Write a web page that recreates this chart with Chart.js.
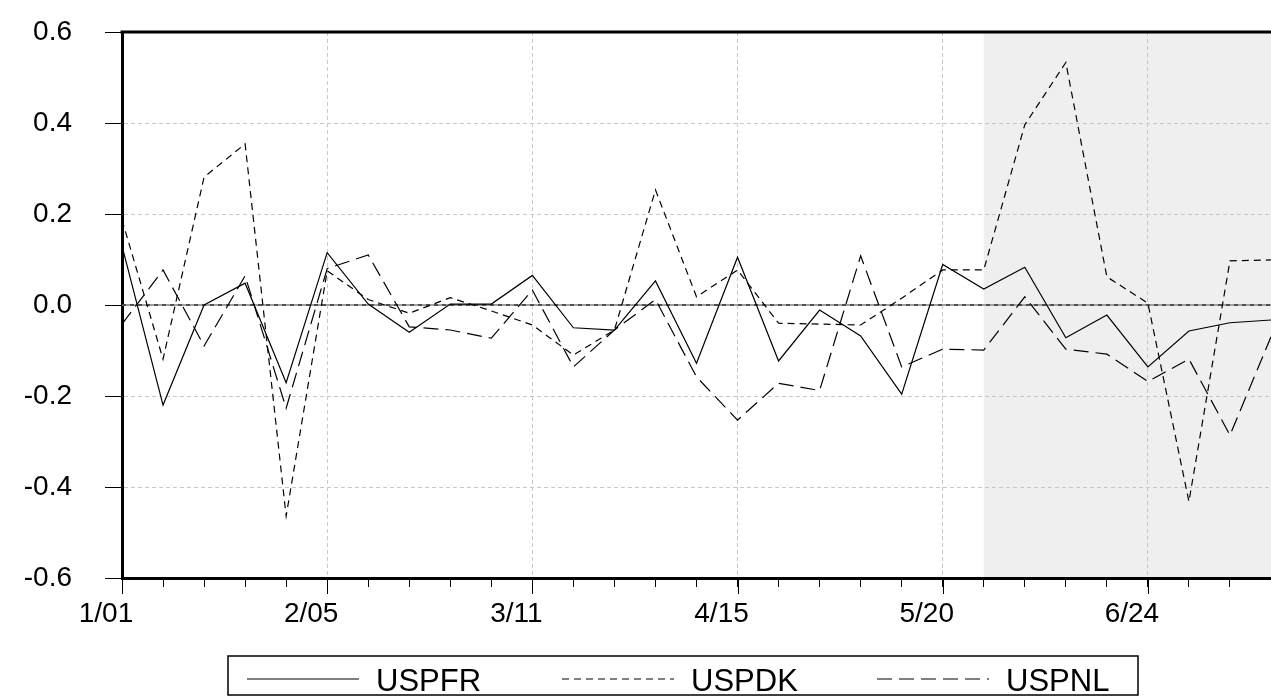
<!DOCTYPE html>
<html>
<head>
<meta charset="utf-8">
<script src="https://cdn.jsdelivr.net/npm/chart.js@4.4.0/dist/chart.umd.min.js"></script>
<style>
  html, body { margin: 0; padding: 0; background: #fff; }
  #wrap { width: 1271px; height: 700px; }
</style>
</head>
<body>
<div id="wrap"><canvas id="chart" width="1271" height="700"></canvas></div>
<script>
// weekly observations
const weeks = ["1/01", "1/08", "1/15", "1/22", "1/29", "2/05", "2/12", "2/19", "2/26", "3/04",
    "3/11", "3/18", "3/25", "4/01", "4/08", "4/15", "4/22", "4/29", "5/06", "5/13",
    "5/20", "5/27", "6/03", "6/10", "6/17", "6/24", "7/01", "7/08", "7/15"];

const tickWeeks = ["1/01", "2/05", "3/11", "4/15", "5/20", "6/24"];

const uspfr = [0.130, -0.220, 0.000, 0.048, -0.171, 0.115, 0.002, -0.060, 0.002, 0.002,
    0.065, -0.050, -0.055, 0.053, -0.128, 0.105, -0.123, -0.011, -0.068, -0.196,
    0.089, 0.035, 0.083, -0.072, -0.022, -0.136, -0.057, -0.039, -0.033];

const uspdk = [0.187, -0.119, 0.281, 0.354, -0.464, 0.075, 0.012, -0.018, 0.016, -0.013,
    -0.044, -0.110, -0.055, 0.253, 0.018, 0.077, -0.040, -0.042, -0.044, 0.015,
    0.077, 0.077, 0.396, 0.533, 0.062, 0.004, -0.432, 0.097, 0.099];

const uspnl = [-0.042, 0.077, -0.090, 0.064, -0.227, 0.080, 0.110, -0.048, -0.055, -0.073,
    0.033, -0.136, -0.055, 0.012, -0.158, -0.253, -0.172, -0.188, 0.108, -0.136,
    -0.097, -0.099, 0.018, -0.097, -0.108, -0.168, -0.119, -0.286, -0.070];

// shaded period
const shadeFrom = "5/27";
const shadeTo = "7/15";

Chart.defaults.font.family = '"Liberation Sans", Arial, sans-serif';
Chart.defaults.color = "#000";

const isMajor = (i) => tickWeeks.includes(weeks[i]);

// grey band behind everything
const shadePlugin = {
    id: "shade",
    beforeDraw(chart) {
        const { ctx, chartArea: a, scales: { x } } = chart;
        const x0 = x.getPixelForValue(weeks.indexOf(shadeFrom));
        const x1 = x.getPixelForValue(weeks.indexOf(shadeTo));
        ctx.save();
        ctx.fillStyle = "#efefef";
        ctx.fillRect(x0, a.top, x1 - x0, a.bottom - a.top);
        ctx.restore();
    }
};

// zero line, top edge of the frame, longer ticks at labelled weeks
const framePlugin = {
    id: "frame",
    beforeDatasetsDraw(chart) {
        const { ctx, chartArea: a, scales: { y } } = chart;
        const y0 = y.getPixelForValue(0);
        ctx.save();
        ctx.strokeStyle = "#a0a0a0";
        ctx.lineWidth = 2;
        ctx.beginPath();
        ctx.moveTo(a.left, y0);
        ctx.lineTo(a.right, y0);
        ctx.stroke();
        ctx.strokeStyle = "#000";
        ctx.lineWidth = 1;
        ctx.setLineDash([4, 4]);
        ctx.beginPath();
        ctx.moveTo(a.left, y0);
        ctx.lineTo(a.right, y0);
        ctx.stroke();
        ctx.restore();
    },
    afterDraw(chart) {
        const { ctx, chartArea: a, scales: { x } } = chart;
        ctx.save();
        ctx.strokeStyle = "#000";
        ctx.lineWidth = 3;
        ctx.beginPath();
        ctx.moveTo(a.left - 1.5, a.top);
        ctx.lineTo(a.right, a.top);
        ctx.stroke();
        ctx.lineWidth = 1;
        ctx.beginPath();
        weeks.forEach((w, i) => {
            if (!isMajor(i)) return;
            const px = Math.round(x.getPixelForValue(i)) + 0.5;
            ctx.moveTo(px, a.bottom);
            ctx.lineTo(px, a.bottom + 16);
        });
        ctx.stroke();
        ctx.restore();
    }
};

// boxed legend under the axis
const legendPlugin = {
    id: "boxLegend",
    afterDraw(chart) {
        const { ctx } = chart;
        const box = { left: 228, top: 656, width: 910, height: 39 };
        ctx.save();
        ctx.strokeStyle = "#000";
        ctx.lineWidth = 1.5;
        ctx.strokeRect(box.left, box.top, box.width, box.height);
        chart.data.datasets.forEach((ds, i) => {
            const sx = box.left + 19 + i * 315;
            const sy = box.top + 23;
            ctx.setLineDash(ds.borderDash || []);
            ctx.lineWidth = 1.2;
            ctx.beginPath();
            ctx.moveTo(sx, sy);
            ctx.lineTo(sx + 112, sy);
            ctx.stroke();
            ctx.setLineDash([]);
            ctx.font = '31px "Liberation Sans", Arial, sans-serif';
            ctx.fillStyle = "#000";
            ctx.textBaseline = "alphabetic";
            ctx.fillText(ds.label, sx + 129, box.top + 35);
        });
        ctx.restore();
    }
};

new Chart(document.getElementById("chart"), {
    type: "line",
    data: {
        labels: weeks,
        datasets: [
            { label: "USPFR", data: uspfr, borderColor: "#000", borderWidth: 1.2, borderDash: [], pointRadius: 0, tension: 0 },
            { label: "USPDK", data: uspdk, borderColor: "#000", borderWidth: 1.2, borderDash: [7, 5], pointRadius: 0, tension: 0 },
            { label: "USPNL", data: uspnl, borderColor: "#000", borderWidth: 1.2, borderDash: [15, 7], pointRadius: 0, tension: 0 }
        ]
    },
    options: {
        responsive: false,
        animation: false,
        devicePixelRatio: 1,
        layout: { padding: { top: 32, right: 0, left: 0, bottom: 0 } },
        plugins: { legend: { display: false }, tooltip: { enabled: false } },
        scales: {
            x: {
                type: "category",
                offset: false,
                grid: {
                    color: (c) => isMajor(c.index) ? "#c8c8c8" : "rgba(0,0,0,0)",
                    lineWidth: 1,
                    tickColor: "#000",
                    tickLength: 9,
                    tickWidth: 1
                },
                border: { color: "#000", width: 3, dash: [4, 3] },
                ticks: {
                    autoSkip: false,
                    maxRotation: 0,
                    font: { size: 28 },
                    padding: 10,
                    labelOffset: -16,
                    callback: (v, i) => isMajor(i) ? weeks[i] : ""
                },
                afterFit: (s) => { s.height = 122; s.paddingLeft = 0; s.paddingRight = 0; }
            },
            y: {
                min: -0.6,
                max: 0.6,
                ticks: {
                    stepSize: 0.2,
                    font: { size: 28 },
                    padding: 33,
                    callback: (v) => Math.abs(v) < 1e-9 ? "0.0" : v.toFixed(1)
                },
                grid: {
                    color: (c) => {
                        const v = Math.abs(c.tick.value);
                        return v > 1e-9 && Math.abs(v - 0.6) > 1e-9 ? "#c8c8c8" : "rgba(0,0,0,0)";
                    },
                    lineWidth: 1,
                    tickColor: "#000",
                    tickLength: 17,
                    tickWidth: 1
                },
                border: { color: "#000", width: 3, dash: [4, 3] },
                afterFit: (s) => { s.width = 122; s.paddingTop = 0; s.paddingBottom = 0; }
            }
        }
    },
    plugins: [shadePlugin, framePlugin, legendPlugin]
});
</script>
</body>
</html>
